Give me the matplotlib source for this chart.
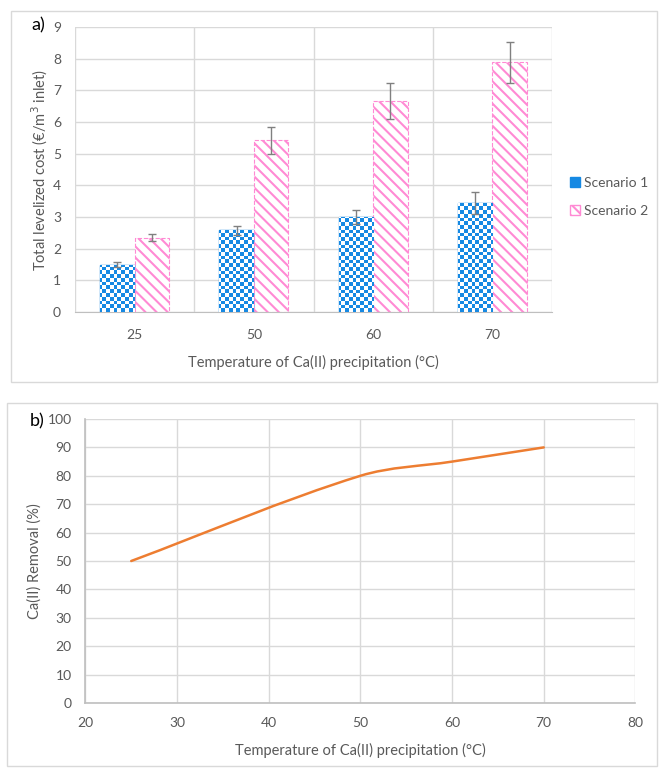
import matplotlib

matplotlib.use("Agg")

import matplotlib.pyplot as plt
import numpy as np
from matplotlib.colors import ListedColormap
from matplotlib.patches import Patch, PathPatch, Rectangle
from matplotlib.path import Path

# panel a: levelized cost per scenario
temps_a = ["25", "50", "60", "70"]
cost_s1 = [1.50, 2.58, 3.00, 3.45]
cost_s2 = [2.35, 5.42, 6.65, 7.88]
err_s1 = [0.08, 0.15, 0.23, 0.35]
err_s2 = [0.10, 0.43, 0.57, 0.65]

# panel b: Ca(II) removal vs temperature
temps_b = [25, 50, 60, 70]
removal = [50, 80, 85, 90]

BLUE = "#1689e3"
PINK = "#ff8ad4"
GRID = "#d9d9d9"
AXIS = "#bfbfbf"
TEXT = "#595959"

plt.rcParams["font.family"] = ["Lato", "DejaVu Sans"]
plt.rcParams["hatch.linewidth"] = 1.5

fig = plt.figure(figsize=(6.59, 7.69), dpi=100)

# chart frames
fig.patches.append(Rectangle((11 / 659, 1 - 382 / 769), 646 / 659, 371 / 769,
                             transform=fig.transFigure, fill=False,
                             edgecolor=GRID, lw=1))
fig.patches.append(Rectangle((7 / 659, 1 - 766 / 769), 650 / 659, 363 / 769,
                             transform=fig.transFigure, fill=False,
                             edgecolor=GRID, lw=1))

# ---- a) bar chart ----
ax = fig.add_axes([75 / 659, 1 - 312 / 769, 477 / 659, 285 / 769])
x = np.arange(len(temps_a))
w = 0.29
b1 = ax.bar(x - w / 2, cost_s1, w, color=BLUE, edgecolor=BLUE, lw=1,
            zorder=2)
b2 = ax.bar(x + w / 2, cost_s2, w, color="white", edgecolor=PINK,
            hatch="\\\\\\", lw=0.8, ls="--", zorder=2)
ax.errorbar(x - w / 2, cost_s1, yerr=err_s1, fmt="none", ecolor="#808080",
            elinewidth=1, capsize=3, capthick=1, zorder=4)
ax.errorbar(x + w / 2, cost_s2, yerr=err_s2, fmt="none", ecolor="#808080",
            elinewidth=1, capsize=3, capthick=1, zorder=4)

# checkerboard fill for scenario 1
nx, ny = 124, 76
checker = (np.add.outer(np.arange(ny), np.arange(nx)) % 2).astype(float)
for bar in b1:
    im = ax.imshow(checker, cmap=ListedColormap([BLUE, "white"]),
                   extent=(-0.5, 3.5, 0, 9), aspect="auto",
                   interpolation="nearest", origin="lower", zorder=3)
    im.set_clip_path(bar)

ax.set_xlim(-0.5, 3.5)
ax.set_ylim(0, 9)
ax.set_xticks(x)
ax.set_xticklabels(temps_a)
ax.set_xticks(np.arange(-0.5, 4, 1), minor=True)
ax.set_yticks(range(0, 10))
ax.grid(which="minor", axis="x", color=GRID, lw=1, zorder=0)
ax.grid(which="major", axis="y", color=GRID, lw=1, zorder=0)
ax.set_axisbelow(True)
ax.tick_params(which="both", length=0, colors=TEXT, labelsize=10)
ax.tick_params(axis="x", pad=12)
ax.tick_params(axis="y", pad=10)
for side in ["top", "right", "left"]:
    ax.spines[side].set_visible(False)
ax.spines["bottom"].set_color(AXIS)
ax.set_xlabel("Temperature of Ca(II) precipitation (°C)", color=TEXT,
              fontsize=10.5, labelpad=10)
ax.set_ylabel("Total levelized cost (€/m$^3$ inlet)", color=TEXT,
              fontsize=10.5, labelpad=2)
ax.legend(
    handles=[Patch(facecolor=BLUE, edgecolor=BLUE, label="Scenario 1"),
             Patch(facecolor="white", edgecolor=PINK, hatch="\\\\\\",
                   label="Scenario 2")],
    loc="center left", bbox_to_anchor=(1.012, 0.404), frameon=False,
    fontsize=10, labelcolor=TEXT, handlelength=0.7, handleheight=0.7,
    handletextpad=0.3, labelspacing=1.2,
)
fig.text(38 / 659, 1 - 25 / 769, "a)", fontsize=13, ha="center",
         va="center", color="black")

# ---- b) removal curve ----
bx = fig.add_axes([85.4 / 659, 1 - 703 / 769, 550 / 659, 284 / 769])
bx.set_xlim(20, 80)
bx.set_ylim(0, 100)

# smoothed line: cubic Bezier segments, tangents from the neighbouring
# points, handle length a third of each segment (in screen space)
pts = bx.transData.transform(np.column_stack([temps_b, removal]))
n = len(pts)
tang = []
for i in range(n):
    d = pts[min(i + 1, n - 1)] - pts[max(i - 1, 0)]
    tang.append(d / np.hypot(*d))
verts = [pts[0]]
codes = [Path.MOVETO]
for i in range(n - 1):
    seg = np.hypot(*(pts[i + 1] - pts[i])) / 3
    verts += [pts[i] + tang[i] * seg, pts[i + 1] - tang[i + 1] * seg,
              pts[i + 1]]
    codes += [Path.CURVE4] * 3
verts = bx.transData.inverted().transform(np.array(verts))
bx.add_patch(PathPatch(Path(verts, codes), fill=False, edgecolor="#ed7d31",
                       lw=1.8, capstyle="round", zorder=3))

bx.set_xticks(range(20, 81, 10))
bx.set_yticks(range(0, 101, 10))
bx.grid(color=GRID, lw=1, zorder=0)
bx.set_axisbelow(True)
bx.tick_params(length=0, colors=TEXT, labelsize=10)
bx.tick_params(axis="x", pad=10)
bx.tick_params(axis="y", pad=10)
for side in ["top", "right"]:
    bx.spines[side].set_visible(False)
for side in ["left", "bottom"]:
    bx.spines[side].set_color(AXIS)
    bx.spines[side].set_linewidth(1.2)
bx.set_xlabel("Temperature of Ca(II) precipitation (°C)", color=TEXT,
              fontsize=10.5, labelpad=10)
bx.set_ylabel("Ca(II) Removal (%)", color=TEXT, fontsize=10.5, labelpad=4)
fig.text(37 / 659, 1 - 421 / 769, "b)", fontsize=13, ha="center",
         va="center", color="black")

fig.savefig("out.png", dpi=100)
